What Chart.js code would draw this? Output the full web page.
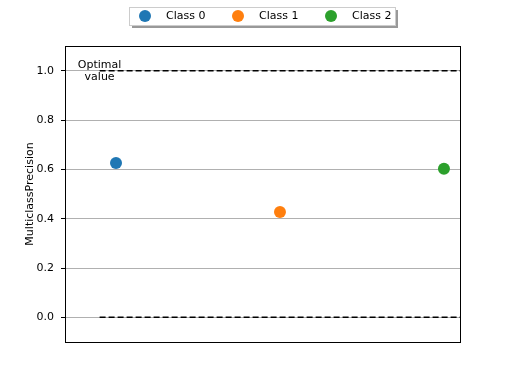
<!DOCTYPE html>
<html><head><meta charset="utf-8">
<script src="https://cdn.jsdelivr.net/npm/chart.js@4/dist/chart.umd.min.js"></script>
<style>html,body{margin:0;padding:0;background:#fff}#c{display:block}</style>
</head><body>
<canvas id="c" width="512" height="384"></canvas>
<script>
const classNames = ["Class 0", "Class 1", "Class 2"];
const precisionValues = [0.626, 0.427, 0.602];
const classColors = ["#1f77b4", "#ff7f0e", "#2ca02c"];
const yTickValues = [0.0, 0.2, 0.4, 0.6, 0.8, 1.0];
const optimalLevels = [1.0, 0.0];
const optimalLineX = [-0.1, 2.2];
const xRange = [-0.311, 2.104];
const yRange = [-0.1, 1.1];
const FONT = "DejaVu Sans";

const datasets = classNames.map((n, i) => ({
  type: 'scatter', label: n,
  data: [{x: i, y: precisionValues[i]}],
  backgroundColor: classColors[i], borderColor: classColors[i],
  pointRadius: 6, pointHoverRadius: 6, borderWidth: 0
}));
optimalLevels.forEach(v => datasets.push({
  type: 'line', label: '_opt',
  data: optimalLineX.map(x => ({x, y: v})),
  borderColor: '#000', borderWidth: 1.5, borderDash: [6, 3],
  pointRadius: 0, fill: false
}));

const framePlugin = {
  id: 'frame',
  afterDatasetsDraw(chart) {
    const {ctx, chartArea: a, scales} = chart;
    ctx.save();
    ctx.strokeStyle = '#000'; ctx.lineWidth = 1;
    ctx.strokeRect(a.left + 0.5, a.top + 0.5, a.right - a.left - 1, a.bottom - a.top);
    ctx.fillStyle = '#000';
    ctx.font = '11px "' + FONT + '"';
    ctx.textAlign = 'center'; ctx.textBaseline = 'middle';
    const tx = scales.x.getPixelForValue(-0.1), ty = scales.y.getPixelForValue(1.0);
    ctx.fillText('Optimal', tx, ty - 6);
    ctx.fillText('value', tx, ty + 6);
    ctx.restore();
  },
  afterDraw(chart) {
    const ctx = chart.ctx;
    ctx.save();
    const bx = 129, by = 7, bw = 266, bh = 18;
    ctx.fillStyle = '#999';
    ctx.fillRect(bx + 3, by + 3, bw, bh);
    ctx.fillStyle = '#fff';
    ctx.fillRect(bx, by, bw, bh);
    ctx.strokeStyle = '#ccc'; ctx.lineWidth = 1;
    ctx.strokeRect(bx + 0.5, by + 0.5, bw, bh);
    ctx.font = '11px "' + FONT + '"';
    ctx.textBaseline = 'middle'; ctx.textAlign = 'left';
    classNames.forEach((n, i) => {
      const mx = 145 + i * 93;
      ctx.fillStyle = classColors[i];
      ctx.beginPath(); ctx.arc(mx, 16, 6, 0, Math.PI * 2); ctx.fill();
      ctx.fillStyle = '#000';
      ctx.fillText(n, mx + 21, 16.5);
    });
    ctx.restore();
  }
};

new Chart(document.getElementById('c'), {
  data: {datasets},
  options: {
    responsive: false, animation: false, devicePixelRatio: 1,
    layout: {padding: {left: 24, top: 46, right: 51, bottom: 42}},
    plugins: {legend: {display: false}, tooltip: {enabled: false}},
    scales: {
      x: {type: 'linear', min: xRange[0], max: xRange[1], display: false},
      y: {
        type: 'linear', min: yRange[0], max: yRange[1],
        afterBuildTicks(s) { s.ticks = yTickValues.map(v => ({value: v})); },
        afterFit(s) { s.width = 41; },
        grid: {color: '#b0b0b0', lineWidth: 1, tickColor: '#000', tickLength: 4, drawTicks: true},
        border: {color: '#000', width: 1},
        ticks: {color: '#000', font: {family: FONT, size: 11}, padding: 7,
          callback: v => Number(v).toFixed(1)},
        title: {display: true, text: 'MulticlassPrecision', color: '#000',
          font: {family: FONT, size: 11}, padding: {top: 0, bottom: 2}}
      }
    }
  },
  plugins: [framePlugin]
});
</script>
</body></html>
